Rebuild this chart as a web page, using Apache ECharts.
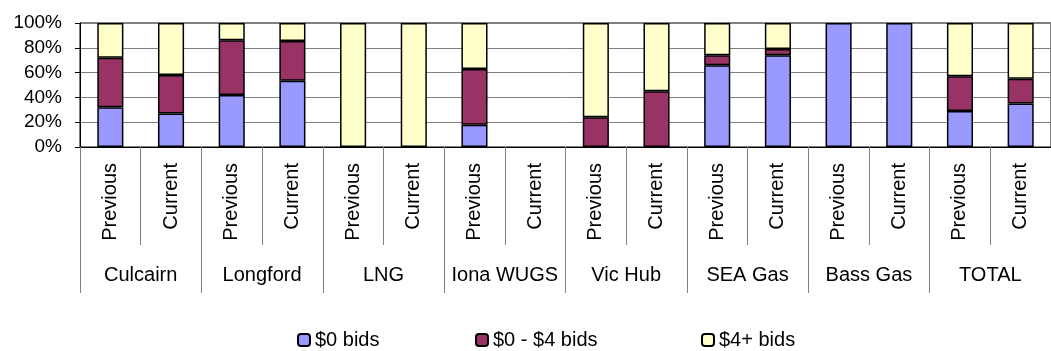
<!DOCTYPE html>
<html>
<head>
<meta charset="utf-8">
<script src="https://cdn.jsdelivr.net/npm/echarts@6/dist/echarts.min.js"></script>
<style>
  html, body { margin: 0; padding: 0; background: #fff; }
  #box { width: 1051px; height: 351px; }
</style>
</head>
<body>
<div id="box"></div>
<script>
// 分类：每个站点 Previous / Current
var groups = ['Culcairn', 'Longford', 'LNG', 'Iona WUGS', 'Vic Hub', 'SEA Gas', 'Bass Gas', 'TOTAL'];
var periods = ['Previous', 'Current', 'Previous', 'Current', 'Previous', 'Current', 'Previous', 'Current',
               'Previous', 'Current', 'Previous', 'Current', 'Previous', 'Current', 'Previous', 'Current'];
var yTicks = [0, 20, 40, 60, 80, 100];

// 百分比数据
var zeroBids = [32, 27, 42, 53.5, 0, 0, 18, 0, 0, 0, 66, 74, 100, 100, 29, 35];
var lowBids  = [40, 31, 44, 32, 0, 0, 45, 0, 24, 45, 8, 5, 0, 0, 28, 20];
var highBids = [28, 42, 14, 14.5, 100, 100, 37, 0, 76, 55, 26, 21, 0, 0, 43, 45];

var seriesNames = ['$0 bids', '$0 - $4 bids', '$4+ bids'];

var font = 'Liberation Sans, Arial, sans-serif';

var myChart = echarts.init(document.getElementById('box'));

function barSeries(name, data, color) {
    return {
        name: name,
        type: 'bar',
        stack: 'total',
        barWidth: '43%',
        xAxisIndex: 0,
        // 0 值不画（否则会出现一条边框线）
        data: data.map(function (v) { return v === 0 ? '-' : v; }),
        itemStyle: { color: color, borderColor: '#000', borderWidth: 1.5 }
    };
}

function legendItem(name, left) {
    return {
        left: left, top: 325,
        itemWidth: 12, itemHeight: 12,
        textStyle: { fontFamily: font, fontSize: 20, color: '#000' },
        data: [name]
    };
}

var option = {
    animation: false,
    textStyle: { fontFamily: font },
    grid: {
        left: 80, top: 23, width: 984, height: 124,
        show: true, borderColor: '#000', borderWidth: 1, backgroundColor: 'transparent'
    },
    legend: [
        legendItem(seriesNames[0], 292),
        legendItem(seriesNames[1], 470),
        legendItem(seriesNames[2], 696)
    ],
    xAxis: [
        {
            type: 'category',
            data: periods,
            axisLine: { lineStyle: { color: '#000', width: 1 } },
            axisTick: { show: true, interval: 0, length: 98, lineStyle: { color: '#808080' } },
            axisLabel: {
                interval: 0, rotate: 90, margin: 16,
                fontFamily: font, fontSize: 20, color: '#000'
            }
        },
        {
            type: 'category',
            position: 'bottom',
            offset: 98,
            data: groups,
            axisLine: { show: false },
            axisTick: { show: true, interval: 0, length: 48, lineStyle: { color: '#808080' } },
            axisLabel: { interval: 0, margin: 20, fontFamily: font, fontSize: 20, color: '#000' }
        }
    ],
    yAxis: {
        type: 'value',
        min: yTicks[0],
        max: yTicks[yTicks.length - 1],
        interval: 20,
        axisLine: { show: true, lineStyle: { color: '#000' } },
        axisTick: { show: true, length: 5, lineStyle: { color: '#000' } },
        splitLine: { lineStyle: { color: '#808080', width: 1 } },
        axisLabel: {
            margin: 18, fontFamily: font, fontSize: 19, color: '#000',
            formatter: function (v) { return v + '%'; }
        }
    },
    series: [
        barSeries(seriesNames[0], zeroBids, '#9999FF'),
        barSeries(seriesNames[1], lowBids, '#993366'),
        barSeries(seriesNames[2], highBids, '#FFFFCC')
    ]
};

myChart.setOption(option);
</script>
</body>
</html>
